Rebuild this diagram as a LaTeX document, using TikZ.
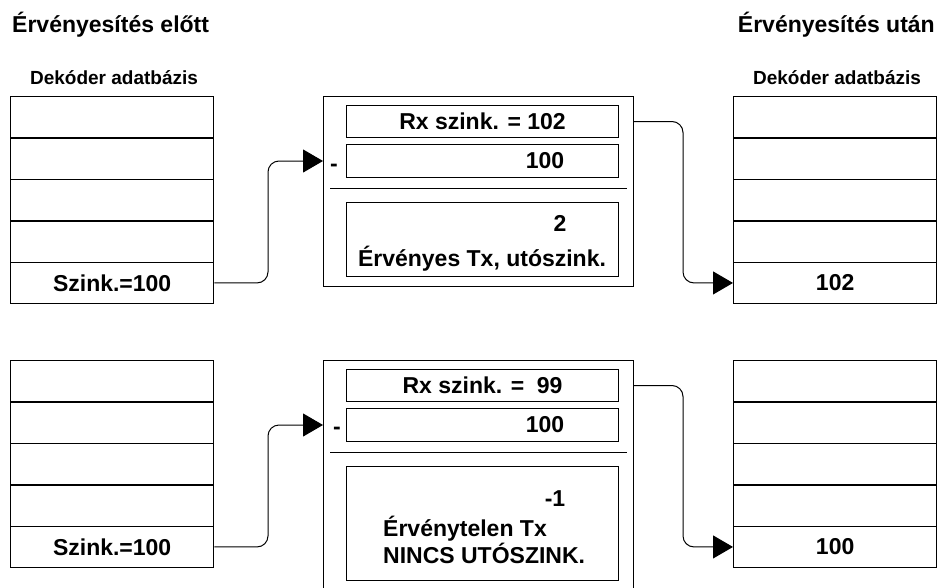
\documentclass[tikz,border=0pt]{standalone}
\usepackage{fontspec}
\setmainfont{Liberation Sans}
\usetikzlibrary{arrows.meta}
\newcommand\bigtxt{\fontsize{23}{26}\selectfont\bfseries}
\newcommand\subtxt{\fontsize{19}{22}\selectfont\bfseries}
\tikzset{
  cell/.style={draw,line width=1.3pt,minimum width=203pt,minimum height=41.4pt,
    inner sep=0pt,anchor=north west,font=\bigtxt},
  frame/.style={draw,line width=1pt,minimum width=310pt,inner sep=0pt,anchor=north west},
  field/.style={draw,line width=1pt,minimum width=272pt,inner sep=0pt,anchor=north west,font=\bigtxt},
  txt/.style={inner sep=0pt,font=\bigtxt},
  link/.style={line width=1pt,rounded corners=11pt,-{Triangle[length=20pt,width=23pt]}},
}
\begin{document}
\begin{tikzpicture}[x=1pt,y=-1pt]
\useasboundingbox (0,0) rectangle (938,587);
\clip (0,0) rectangle (938,587);
% titles
\node[txt,anchor=west] (before) at (12,25) {Érvényesítés előtt};
\node[txt,anchor=east] (after) at (935,25) {Érvényesítés után};
\node[inner sep=0pt,font=\subtxt] (dbl) at (114,78) {Dekóder adatbázis};
\node[inner sep=0pt,font=\subtxt] (dbr) at (837,78) {Dekóder adatbázis};
% decoder tables
\foreach \t/\x/\y/\v in {ea/10/96/{Szink.=100}, ua/733/96/{102},
                         eb/10/360/{Szink.=100}, ub/733/360/{100}} {
  \foreach \r in {1,...,4}
    \node[cell] (\t\r) at (\x,{\y+(\r-1)*41.4}) {};
  \node[cell] (\t5) at (\x,{\y+4*41.4}) {\v};
}
% valid case
\node[frame,minimum height=190pt] (m1) at (323,96) {};
\node[field,minimum height=32pt] (m1a) at (346,105) {Rx szink. = 102};
\node[field,minimum height=33pt] (m1b) at (346,144) {};
\node[txt] (m1bv) at (545,160.5) {100};
\node[txt] (m1s) at (334,168) {-};
\draw[line width=1pt] (330,188) -- (627,188);
\node[field,minimum height=74pt] (m1c) at (346,202) {};
\node[txt] (m1cv) at (560,223) {2};
\node[txt] (m1ct) at (482,259) {Érvényes Tx, utószink.};
% invalid case
\node[frame,minimum height=250pt] (m2) at (323,360) {};
\node[field,minimum height=32pt] (m2a) at (346,369) {Rx szink. =\hspace{0.55em}99};
\node[field,minimum height=33pt] (m2b) at (346,408) {};
\node[txt] (m2bv) at (545,424.5) {100};
\node[txt] (m2s) at (337,431) {-};
\draw[line width=1pt] (330,452) -- (627,452);
\node[field,minimum height=114pt] (m2c) at (346,466) {};
\node[txt] (m2cv) at (555,499) {-1};
\node[txt,anchor=west] (m2ct) at (383,529) {Érvénytelen Tx};
\node[txt,anchor=west] (m2cn) at (383,553) {NINCS UTÓSZINK.};
% connectors
\coordinate (k1) at (268,0);
\coordinate (k2) at (683,0);
\draw[link] (ea5.east) -| (k1 |- m1b.west) -- (m1.west |- m1b.west);
\draw[link] (m1.east |- m1a.east) -| (k2 |- ua5.west) -- (ua5.west);
\draw[link] (eb5.east) -| (k1 |- m2b.west) -- (m2.west |- m2b.west);
\draw[link] (m2.east |- m2a.east) -| (k2 |- ub5.west) -- (ub5.west);
\end{tikzpicture}
\end{document}
